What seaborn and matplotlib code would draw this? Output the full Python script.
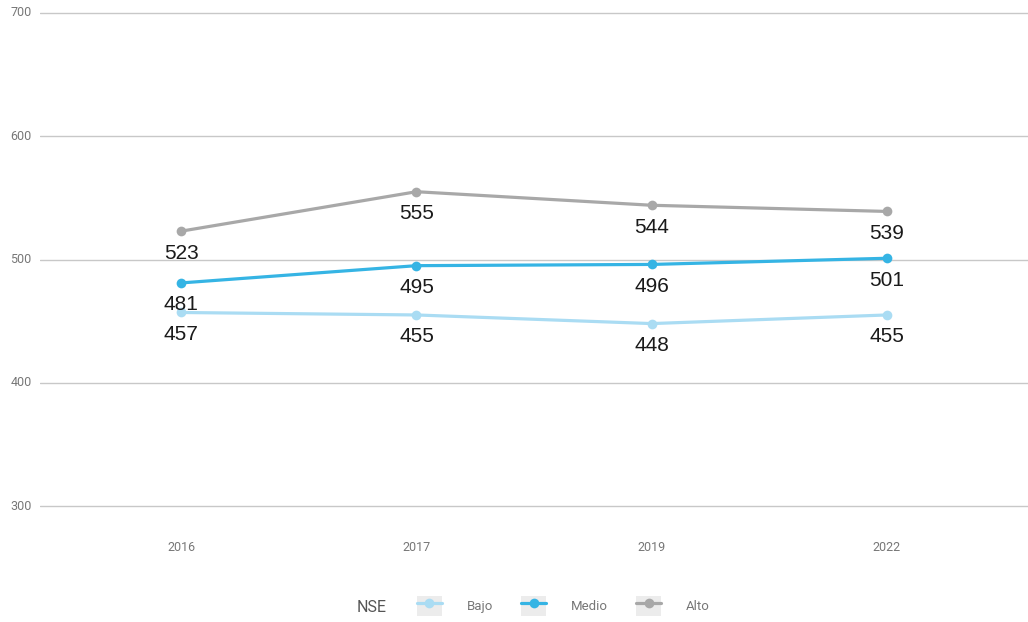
import numpy as np
import pandas as pd
import matplotlib
matplotlib.use("Agg")
import matplotlib.pyplot as plt
import seaborn as sns
from matplotlib.lines import Line2D
from matplotlib.patches import Rectangle
from matplotlib.legend_handler import HandlerTuple

years = ["2016", "2017", "2019", "2022"]
groups = ["Bajo", "Medio", "Alto"]
bajo = [457, 455, 448, 455]
medio = [481, 495, 496, 501]
alto = [523, 555, 544, 539]
colors = {"Bajo": "#aadcf3", "Medio": "#35b4e4", "Alto": "#a8a8a8"}

df = pd.DataFrame({
    "year": years * 3,
    "grupo": ["Bajo"] * 4 + ["Medio"] * 4 + ["Alto"] * 4,
    "score": bajo + medio + alto,
})

sns.set_style("white")
plt.rcParams["font.family"] = ["Roboto", "DejaVu Sans"]

fig = plt.figure(figsize=(10.28, 6.22), dpi=100)
# ylim padded a little so the 300 and 700 gridlines are not clipped
ax = fig.add_axes([0.039, 1 - 509.7 / 622, 0.961, 500.4 / 622])

sns.lineplot(data=df, x="year", y="score", hue="grupo", hue_order=groups,
             palette=colors, marker="o", markersize=7, markeredgewidth=0,
             linewidth=2.3, sort=False, legend=False, ax=ax)

# value labels under each point
for _, row in df.iterrows():
    ax.annotate(str(row["score"]), (years.index(row["year"]), row["score"]),
                xytext=(0, -22), textcoords="offset pixels",
                ha="center", va="center", fontsize=15,
                family="Liberation Sans", color="#1a1a1a")

ax.set_ylim(297, 703)
ax.set_yticks([300, 400, 500, 600, 700])
ax.set_xlim(-0.6, 3.6)
ax.grid(axis="y", color="#c8c8c8", linewidth=1)
ax.grid(axis="x", visible=False)
ax.set_axisbelow(True)
sns.despine(ax=ax, left=True, bottom=True)
ax.tick_params(length=0, labelsize=9, colors="#777777", pad=6)
ax.tick_params(axis="x", pad=22.5)
ax.set_xlabel("")
ax.set_ylabel("")
for lbl in ax.get_yticklabels():
    lbl.set_verticalalignment("center")

# legend
handles = []
for g in groups:
    bg = Rectangle((0, 0), 1, 1, facecolor="#ececec", edgecolor="none")
    ln = Line2D([], [], color=colors[g], marker="o", markersize=7,
                markeredgewidth=0, linewidth=2.3)
    handles.append((bg, ln))
fig.text(372 / 1028, 1 - 607 / 622, "NSE", ha="center", va="center",
         fontsize=11.5, color="#555555")
fig.legend(handles, groups, handler_map={tuple: HandlerTuple(ndivide=1, pad=0)},
           loc="center", bbox_to_anchor=(563.5 / 1028, 1 - 606 / 622), ncol=3,
           frameon=False, fontsize=9.5, labelcolor="#777777",
           handlelength=1.9, handleheight=1.9, handletextpad=1.9,
           columnspacing=2.1)

fig.savefig("out.png", dpi=100)
